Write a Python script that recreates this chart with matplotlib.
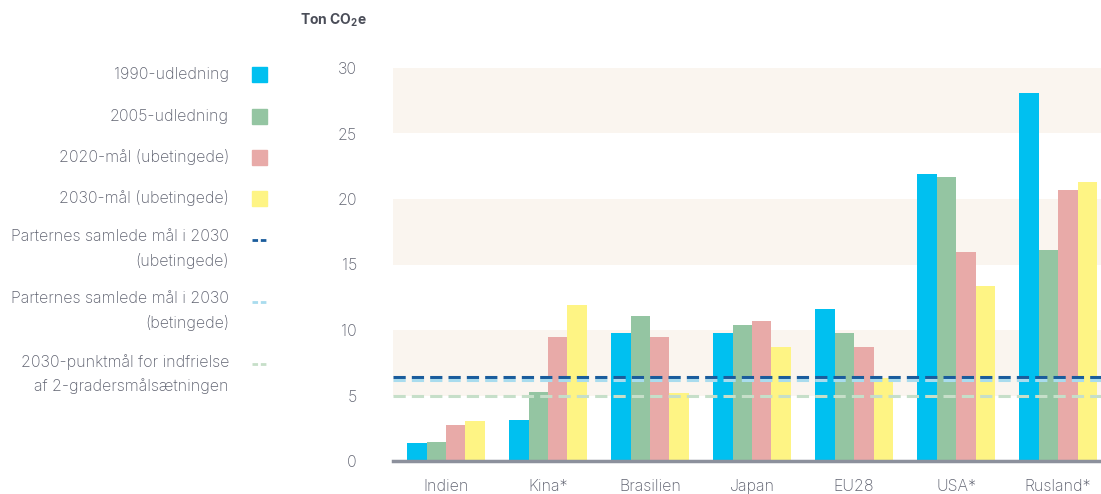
import numpy as np
import matplotlib.pyplot as plt

plt.rcParams['font.family'] = ['Inter', 'DejaVu Sans']
plt.rcParams['mathtext.fontset'] = 'custom'
plt.rcParams['mathtext.rm'] = 'Inter'
plt.rcParams['mathtext.bf'] = 'Inter:bold'

# data
lande = ["Indien", "Kina*", "Brasilien", "Japan", "EU28", "USA*", "Rusland*"]
udl_1990 = [1.35, 3.1, 9.75, 9.8, 11.6, 21.9, 28.1]
udl_2005 = [1.45, 5.3, 11.05, 10.4, 9.8, 21.7, 16.1]
maal_2020 = [2.75, 9.5, 9.5, 10.7, 8.7, 15.95, 20.7]
maal_2030 = [3.05, 11.9, 5.2, 8.7, 6.3, 13.35, 21.3]
samlet_ubet = 6.4
samlet_bet = 6.2
punktmaal = 4.95

serier = [
    ("1990-udledning", udl_1990, "#00c0f0"),
    ("2005-udledning", udl_2005, "#94c5a2"),
    ("2020-mål (ubetingede)", maal_2020, "#e8aaa8"),
    ("2030-mål (ubetingede)", maal_2030, "#fef484"),
]
linjer = [
    ("Parternes samlede mål i 2030\n(ubetingede)", samlet_ubet, "#1a5c9c"),
    ("Parternes samlede mål i 2030\n(betingede)", samlet_bet, "#a9dcee"),
    ("2030-punktmål for indfrielse\naf 2-gradersmålsætningen", punktmaal, "#c6dfc9"),
]

tekstfarve = "#5f6270"
fs = 11.5

W, H = 1101, 494
fig = plt.figure(figsize=(W / 100, H / 100), dpi=100)
ax = fig.add_axes([393 / W, (H - 461) / H, (W - 393) / W, (461 - 68) / H])

x = np.arange(len(lande))
bw = 0.19
for i, (navn, vals, farve) in enumerate(serier):
    ax.bar(x + (i - 1.5) * bw, vals, bw, color=farve, zorder=2)

# alternating bands
for lo in (5, 15, 25):
    ax.axhspan(lo, lo + 5, color="#faf5ef", zorder=0, lw=0)

for navn, v, farve in linjer:
    ax.axhline(v, color=farve, lw=2.2, dashes=(4, 2), zorder=3)

ax.set_xlim(-0.52, 6.42)
ax.set_ylim(0, 30)
ax.set_yticks([0, 5, 10, 15, 20, 25, 30])
ax.set_xticks(x)
ax.set_xticklabels(lande)
ax.tick_params(length=0, labelsize=fs, colors=tekstfarve)
ax.tick_params(axis="y", pad=26)
ax.tick_params(axis="x", pad=13)
for lab in ax.get_xticklabels() + ax.get_yticklabels():
    lab.set_fontweight("light")
for s in ["top", "right", "left"]:
    ax.spines[s].set_visible(False)
ax.spines["bottom"].set_color("#8c909c")
ax.spines["bottom"].set_linewidth(2.5)
ax.spines["bottom"].set_zorder(4)

fig.text(367 / W, 1 - 20 / H, r"Ton CO$_{\mathbf{2}}$e", ha="right", va="center",
         fontsize=10, fontweight="bold", color="#4a4d58")

# legend on the left
lg = fig.add_axes([0, 0, 393 / W, 1])
lg.set_xlim(0, 393)
lg.set_ylim(H, 0)
lg.axis("off")
ys = [75, 116, 157, 198]
for y, (navn, vals, farve) in zip(ys, serier):
    lg.text(229, y, navn, ha="right", va="center", fontsize=fs, color=tekstfarve,
            fontweight="light")
    lg.add_patch(plt.Rectangle((252, y - 7.5), 15, 15, color=farve))
ys2 = [240, 302, 364]
for y, (navn, v, farve) in zip(ys2, linjer):
    lg.text(229, y - 10, navn, ha="right", va="top", fontsize=fs, color=tekstfarve,
            linespacing=1.62, fontweight="light")
    lg.plot([252, 267], [y, y], color=farve, lw=2, dashes=(2, 1))

fig.savefig("out.png", dpi=100)
